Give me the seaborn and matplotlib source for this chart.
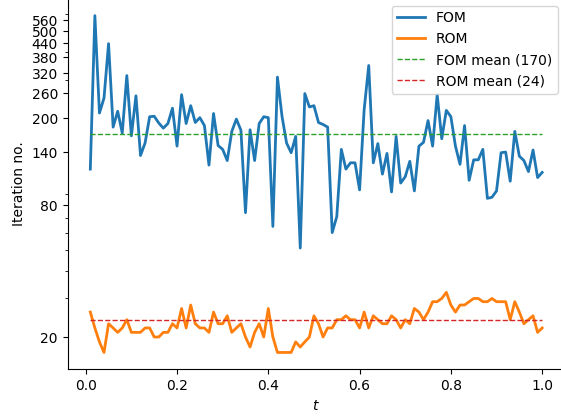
import numpy as np
import pandas as pd
import matplotlib
matplotlib.use("Agg")
import matplotlib.pyplot as plt
from matplotlib import ticker
import seaborn as sns

# Time steps
t = np.round(np.arange(1, 101) * 0.01, 2)

# Solver iterations per time step
fom_iters = [117, 588, 211, 247, 438, 182, 215, 171, 313, 166,
             253, 135, 154, 203, 204, 190, 180, 189, 222, 149,
             256, 189, 228, 191, 201, 185, 122, 210, 150, 144,
             128, 174, 198, 176, 74, 177, 128, 189, 203, 201,
             64, 308, 204, 154, 139, 165, 51, 259, 225, 228,
             191, 187, 182, 60, 71, 144, 117, 125, 125, 94,
             219, 348, 125, 153, 111, 138, 92, 165, 101, 108,
             127, 93, 149, 155, 195, 149, 256, 161, 217, 203,
             149, 123, 185, 104, 129, 129, 144, 86, 87, 93,
             139, 140, 103, 174, 134, 128, 114, 143, 107, 113]
rom_iters = [26, 22, 19, 17, 23, 22, 21, 22, 24, 21,
             21, 21, 22, 22, 20, 20, 21, 21, 23, 22,
             27, 22, 28, 23, 22, 22, 21, 26, 23, 23,
             25, 21, 22, 23, 20, 18, 21, 23, 20, 27,
             20, 17, 17, 17, 17, 19, 18, 19, 20, 25,
             23, 20, 22, 22, 24, 24, 25, 24, 24, 22,
             26, 22, 25, 24, 23, 23, 25, 24, 22, 24,
             23, 27, 26, 24, 26, 29, 29, 30, 32, 28,
             26, 28, 28, 29, 30, 30, 29, 29, 30, 29,
             29, 29, 24, 29, 26, 23, 24, 25, 21, 22]
fom_mean = 170
rom_mean = 24
y_ticks = [20, 80, 140, 200, 260, 320, 380, 440, 500, 560]

plt.rcParams["font.family"] = ["DejaVu Sans"]
plt.rcParams["font.size"] = 10

fig = plt.figure(figsize=(5.61, 4.17), dpi=100)
ax = fig.add_axes([0.1207, 0.1144, 0.886, 0.8885])

sns.lineplot(x=t, y=fom_iters, ax=ax, color="C0", lw=2, label="FOM")
sns.lineplot(x=t, y=rom_iters, ax=ax, color="C1", lw=2, label="ROM")
ax.plot([t[0], t[-1]], [fom_mean, fom_mean], "--", color="C2", lw=1,
        label=f"FOM mean ({fom_mean})")
ax.plot([t[0], t[-1]], [rom_mean, rom_mean], "--", color="C3", lw=1,
        label=f"ROM mean ({rom_mean})")

ax.set_yscale("log")
ax.yaxis.set_major_locator(ticker.FixedLocator(y_ticks))
ax.yaxis.set_major_formatter(ticker.FormatStrFormatter("%d"))
ax.yaxis.set_minor_formatter(ticker.NullFormatter())

ax.set_xlabel("$t$")
ax.set_ylabel("Iteration no.")
ax.legend(loc="upper right")
sns.despine(ax=ax)

fig.savefig("out.png", dpi=100)
